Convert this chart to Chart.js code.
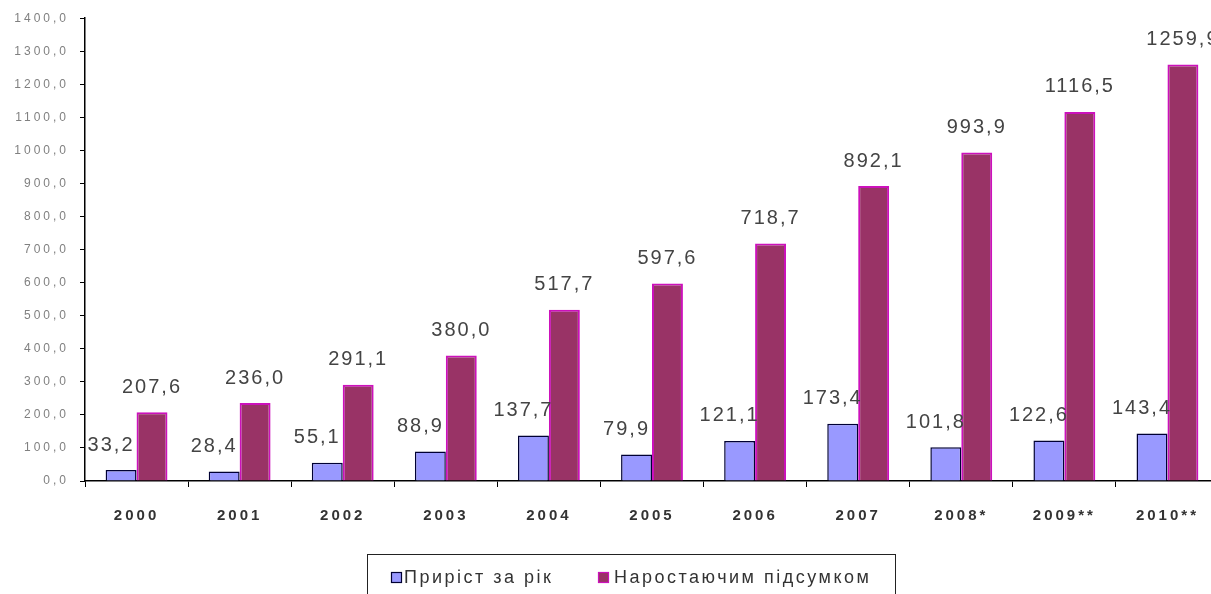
<!DOCTYPE html>
<html>
<head>
<meta charset="utf-8">
<script src="https://cdn.jsdelivr.net/npm/chart.js@4.4.1/dist/chart.umd.min.js"></script>
<style>
  html, body { margin: 0; padding: 0; background: #fff; overflow: hidden; }
  #wrap { width: 1230px; height: 594px; }
</style>
</head>
<body>
<div id="wrap"><canvas id="grafico" width="1230" height="594"></canvas></div>
<script>
// дані з діаграми
const roky = ['2000', '2001', '2002', '2003', '2004', '2005', '2006', '2007', '2008*', '2009**', '2010**'];
const pryrist = [33.2, 28.4, 55.1, 88.9, 137.7, 79.9, 121.1, 173.4, 101.8, 122.6, 143.4];
const narostayuchym = [207.6, 236.0, 291.1, 380.0, 517.7, 597.6, 718.7, 892.1, 993.9, 1116.5, 1259.9];
const nazvy = ['Приріст за рік', 'Наростаючим підсумком'];

const koma = v => v.toFixed(1).replace('.', ',');

// підписи над стовпчиками + рамка легенди
const pidpysy = {
  id: 'pidpysy',
  beforeDraw(chart) {
    chart.ctx.letterSpacing = '3px'; // для осі Y
  },
  afterDatasetsDraw(chart) {
    chart.ctx.letterSpacing = '2.5px'; // для осі X (z: 1)
  },
  afterDraw(chart) {
    const ctx = chart.ctx;
    ctx.save();
    ctx.letterSpacing = '2px';
    ctx.font = '20px "Liberation Sans", Arial, sans-serif';
    ctx.fillStyle = '#444';
    ctx.textAlign = 'center';
    ctx.textBaseline = 'middle';
    chart.data.datasets.forEach((ds, i) => {
      chart.getDatasetMeta(i).data.forEach((bar, j) => {
        const dx = i === 0 ? -10 : 0;
        ctx.fillText(koma(ds.data[j]), bar.x + dx, bar.y - 25);
      });
    });

    // легенда
    ctx.letterSpacing = '2.5px';
    ctx.strokeStyle = '#222';
    ctx.lineWidth = 1;
    ctx.strokeRect(367.5, 554.5, 528, 60);
    ctx.font = '18px "Liberation Sans", Arial, sans-serif';
    ctx.textAlign = 'left';
    const poz = [[391, 404], [598, 614]];
    chart.data.datasets.forEach((ds, i) => {
      ctx.fillStyle = ds.backgroundColor;
      ctx.fillRect(poz[i][0], 572, 11, 11);
      ctx.strokeStyle = i === 0 ? '#000033' : ds.borderColor;
      ctx.lineWidth = 1.2;
      ctx.strokeRect(poz[i][0] + 0.5, 572.5, 10, 10);
      ctx.fillStyle = '#333';
      ctx.fillText(ds.label, poz[i][1], 578);
    });
    ctx.restore();
  }
};

const ctx = document.getElementById('grafico').getContext('2d');
new Chart(ctx, {
  type: 'bar',
  data: {
    labels: roky,
    datasets: [
      {
        label: nazvy[0],
        data: pryrist,
        backgroundColor: '#9999ff',
        borderColor: '#000033',
        borderWidth: 1.5,
        categoryPercentage: 0.6,
        barPercentage: 1.0
      },
      {
        label: nazvy[1],
        data: narostayuchym,
        backgroundColor: '#993366',
        borderColor: '#cc11bb',
        borderWidth: 2,
        categoryPercentage: 0.6,
        barPercentage: 1.0
      }
    ]
  },
  options: {
    responsive: false,
    animation: false,
    layout: { padding: { top: 13, right: 11, bottom: 49, left: 0 } },
    plugins: {
      legend: { display: false },
      tooltip: { enabled: false }
    },
    scales: {
      x: {
        z: 1,
        grid: { drawOnChartArea: false, drawTicks: true, tickLength: 6, color: '#000', offset: true },
        border: { color: '#000', width: 1.5 },
        ticks: {
          color: '#333',
          padding: 20,
          font: { size: 15, weight: 'bold', family: '"Liberation Sans", Arial, sans-serif' }
        }
      },
      y: {
        min: 0,
        max: 1400,
        afterFit(scale) { scale.width = 85; },
        grid: { drawOnChartArea: false, drawTicks: true, tickLength: 5, color: '#000' },
        border: { color: '#000', width: 1.5 },
        ticks: {
          stepSize: 100,
          color: '#808080',
          padding: 11,
          font: { size: 12, family: '"Liberation Sans", Arial, sans-serif' },
          callback: v => koma(v)
        }
      }
    }
  },
  plugins: [pidpysy]
});
</script>
</body>
</html>
